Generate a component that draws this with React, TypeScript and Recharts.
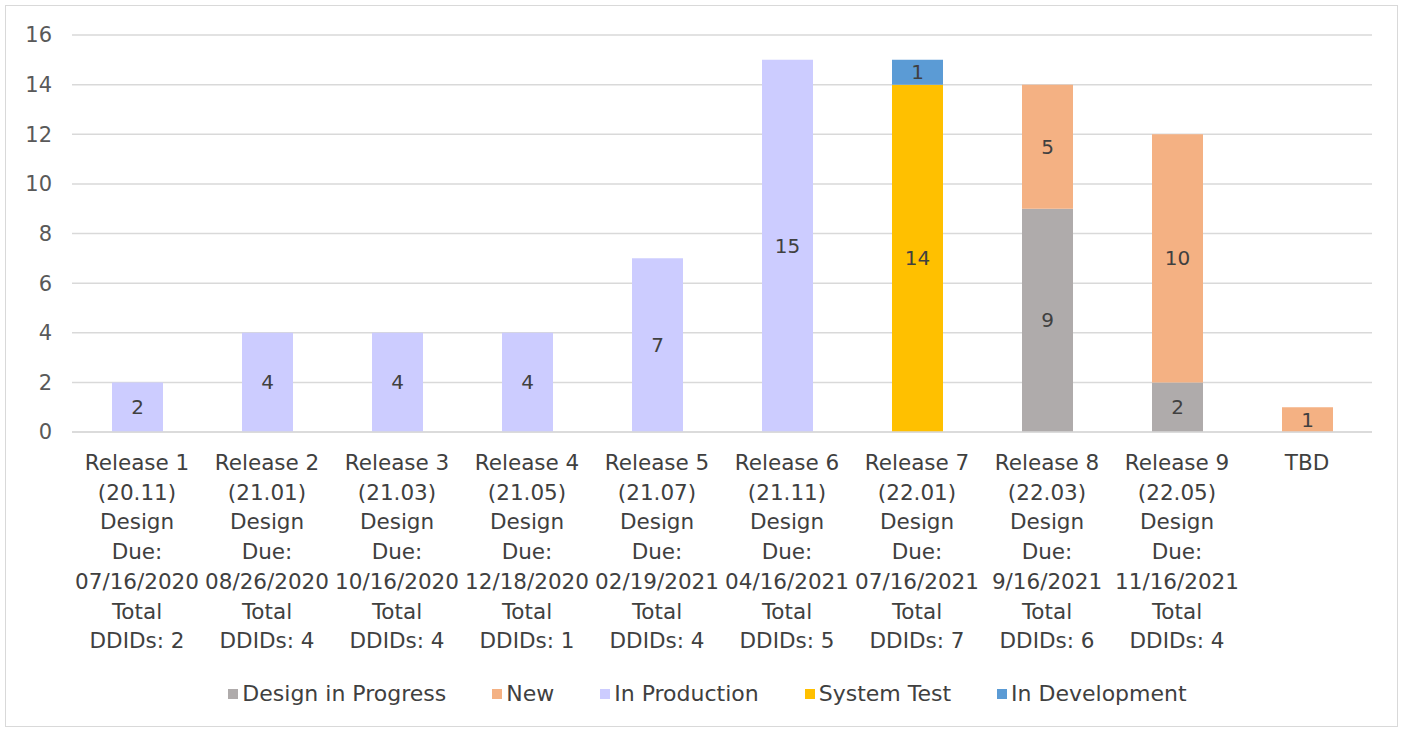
import React from "react";
import {
  BarChart,
  Bar,
  XAxis,
  YAxis,
  CartesianGrid,
  Legend,
  LabelList,
} from "recharts";

const releases = [
  "Release 1",
  "Release 2",
  "Release 3",
  "Release 4",
  "Release 5",
  "Release 6",
  "Release 7",
  "Release 8",
  "Release 9",
  "TBD",
];
const versions = ["20.11", "21.01", "21.03", "21.05", "21.07", "21.11", "22.01", "22.03", "22.05"];
const dueDates = [
  "07/16/2020",
  "08/26/2020",
  "10/16/2020",
  "12/18/2020",
  "02/19/2021",
  "04/16/2021",
  "07/16/2021",
  "9/16/2021",
  "11/16/2021",
];
const totalDDIDs = [2, 4, 4, 1, 4, 5, 7, 6, 4];

const designInProgress = [0, 0, 0, 0, 0, 0, 0, 9, 2, 0];
const newItems = [0, 0, 0, 0, 0, 0, 0, 5, 10, 1];
const inProduction = [2, 4, 4, 4, 7, 15, 0, 0, 0, 0];
const systemTest = [0, 0, 0, 0, 0, 0, 14, 0, 0, 0];
const inDevelopment = [0, 0, 0, 0, 0, 0, 1, 0, 0, 0];

const yTicks = [0, 2, 4, 6, 8, 10, 12, 14, 16];

const SERIES = [
  { key: "design", name: "Design in Progress", color: "#AFABAB" },
  { key: "new", name: "New", color: "#F4B183" },
  { key: "prod", name: "In Production", color: "#CCCCFF" },
  { key: "test", name: "System Test", color: "#FFC000" },
  { key: "dev", name: "In Development", color: "#5B9BD5" },
];

const FONT = "'DejaVu Sans', sans-serif";
const TEXT = "#404040";

const data = releases.map((r, i) => ({
  name: r,
  lines:
    i < versions.length
      ? [r, `(${versions[i]})`, "Design", "Due:", dueDates[i], "Total", `DDIDs: ${totalDDIDs[i]}`]
      : [r],
  design: designInProgress[i],
  new: newItems[i],
  prod: inProduction[i],
  test: systemTest[i],
  dev: inDevelopment[i],
}));

const XTick = ({ x, y, index }: any) => {
  const lines: string[] = data[index] ? data[index].lines : [];
  return (
    <g transform={`translate(${x},${y})`}>
      {lines.map((l, i) => (
        <text
          key={i}
          x={0}
          y={30 + i * 29.7}
          textAnchor="middle"
          fill={TEXT}
          fontSize={21.5}
          fontFamily={FONT}
        >
          {l}
        </text>
      ))}
    </g>
  );
};

const LegendContent = () => (
  <div
    style={{
      display: "flex",
      justifyContent: "center",
      gap: 46,
      fontFamily: FONT,
      fontSize: 22,
      color: TEXT,
    }}
  >
    {SERIES.map((s) => (
      <div key={s.key} style={{ display: "flex", alignItems: "center" }}>
        <span
          style={{
            display: "inline-block",
            width: 10,
            height: 10,
            background: s.color,
            marginRight: 4,
          }}
        />
        <span>{s.name}</span>
      </div>
    ))}
  </div>
);

const hideZero = (v: any) => (v ? v : "");

export default function App() {
  return (
    <div
      style={{
        position: "absolute",
        left: 5,
        top: 5,
        width: 1391,
        height: 720,
        border: "1px solid #D9D9D9",
        background: "#fff",
      }}
    >
      <BarChart
        width={1391}
        height={720}
        data={data}
        margin={{ top: 29, right: 25, bottom: 0, left: 0 }}
        barCategoryGap={0}
      >
        <CartesianGrid vertical={false} stroke="#D9D9D9" strokeWidth={1.5} />
        <XAxis
          dataKey="name"
          height={294}
          interval={0}
          tickLine={false}
          axisLine={{ stroke: "#D9D9D9", strokeWidth: 1.5 }}
          tick={<XTick />}
        />
        <YAxis
          width={66}
          domain={[0, 16]}
          ticks={yTicks}
          tickLine={false}
          axisLine={false}
          tickMargin={14}
          tick={{ fill: "#595959", fontSize: 21, fontFamily: FONT }}
        />
        <Legend
          verticalAlign="middle"
          layout="horizontal"
          wrapperStyle={{ top: 675, left: 6, width: 1391 }}
          content={<LegendContent />}
        />
        {SERIES.map((s) => (
          <Bar
            key={s.key}
            dataKey={s.key}
            name={s.name}
            stackId="a"
            fill={s.color}
            barSize={51}
            isAnimationActive={false}
          >
            <LabelList
              dataKey={s.key}
              position="center"
              formatter={hideZero}
              fill={TEXT}
              fontSize={20}
              fontFamily={FONT}
            />
          </Bar>
        ))}
      </BarChart>
    </div>
  );
}
